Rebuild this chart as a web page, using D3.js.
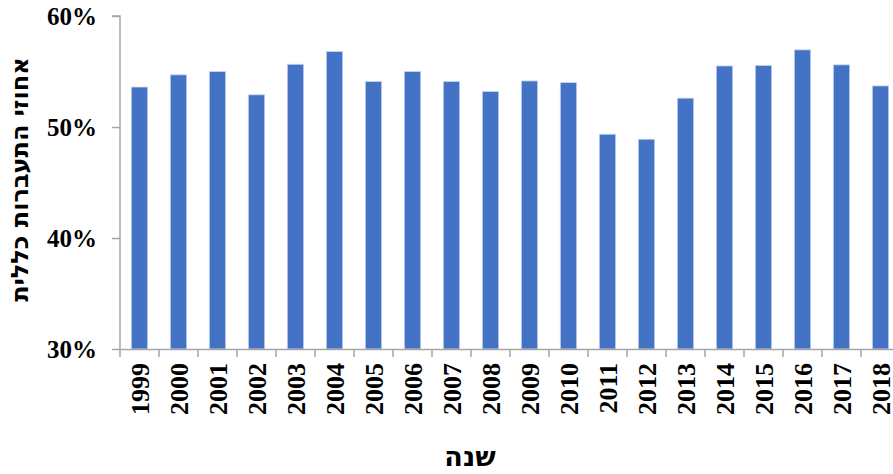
<!DOCTYPE html>
<html><head><meta charset="utf-8">
<script src="https://cdn.jsdelivr.net/npm/d3@7"></script>
<style>body{margin:0;background:#fff}svg{display:block}</style>
</head><body>
<svg id="c" width="893" height="474"></svg>
<script>
const years = ["1999","2000","2001","2002","2003","2004","2005","2006","2007","2008","2009","2010","2011","2012","2013","2014","2015","2016","2017","2018"];
const rates = [53.6,54.7,55.0,52.9,55.65,56.8,54.1,55.0,54.1,53.2,54.15,54.0,49.35,48.9,52.6,55.5,55.55,56.95,55.6,53.7];
const yTicks = [30,40,50,60];
const yTitle = "אחוזי התעברות כללית";
const xTitle = "שנה";

(function(){
const svg = d3.select("#c");
const mL = 120, mR = 900, mT = 16, mB = 349;
const x = d3.scaleBand().domain(years).range([mL, mR]);
const y = d3.scaleLinear().domain([30,60]).range([mB, mT]);
const font = "'Liberation Serif','Times New Roman',serif";
const hebFont = "'DejaVu Sans',sans-serif";
const axisColor = "#A6A6A6";

const bw = x.bandwidth()*0.42;
svg.append("g").selectAll("rect").data(years).join("rect")
  .attr("x", (d)=>x(d)+x.bandwidth()/2-bw/2)
  .attr("y", (d,i)=>y(rates[i]))
  .attr("width", bw)
  .attr("height", (d,i)=>y(30)-y(rates[i]))
  .attr("fill", "#4472C4")
  .attr("stroke", "#C9D6EF").attr("stroke-width", 0.8);

const ya = svg.append("g").attr("transform", `translate(${mL},0)`)
  .call(d3.axisLeft(y).tickValues(yTicks).tickSize(8).tickFormat(d=>d+"%"));
ya.select(".domain").attr("stroke", axisColor).attr("stroke-width", 1.5).attr("d", `M-8,${mT}H0V${mB}`);
ya.selectAll(".tick line").attr("stroke", axisColor).attr("stroke-width", 1.5);
ya.selectAll(".tick text").attr("x", -23).attr("font-family", font).attr("font-weight", "bold")
  .attr("font-size", 25).attr("fill", "#000").attr("dy", "0.35em");

const xa = svg.append("g").attr("transform", `translate(0,${mB})`)
  .call(d3.axisBottom(x).tickSize(0).tickSizeOuter(0));
xa.select(".domain").attr("stroke", axisColor).attr("stroke-width", 1.5);
xa.selectAll(".tick line").remove();
xa.selectAll(".tick text")
  .attr("transform", "rotate(-90)")
  .attr("x", -14).attr("y", 0).attr("dy", "0.35em")
  .attr("text-anchor", "end")
  .attr("font-family", font).attr("font-weight", "bold").attr("font-size", 26).attr("fill", "#000");
const bounds = years.map(d=>x(d)).concat([mR]);
svg.append("g").selectAll("line").data(bounds).join("line")
  .attr("x1", d=>d).attr("x2", d=>d).attr("y1", mB).attr("y2", mB+8)
  .attr("stroke", axisColor).attr("stroke-width", 1.5);

svg.append("text").attr("transform", `translate(28,${(mT+mB)/2-3}) rotate(-90)`)
  .attr("text-anchor", "middle").attr("font-family", hebFont).attr("font-weight", "bold")
  .attr("font-size", 24).attr("direction", "rtl").text(yTitle);
svg.append("text").attr("x", 470).attr("y", 466)
  .attr("text-anchor", "middle").attr("font-family", hebFont).attr("font-weight", "bold")
  .attr("font-size", 27).text(xTitle);
})();
</script>
</body></html>
